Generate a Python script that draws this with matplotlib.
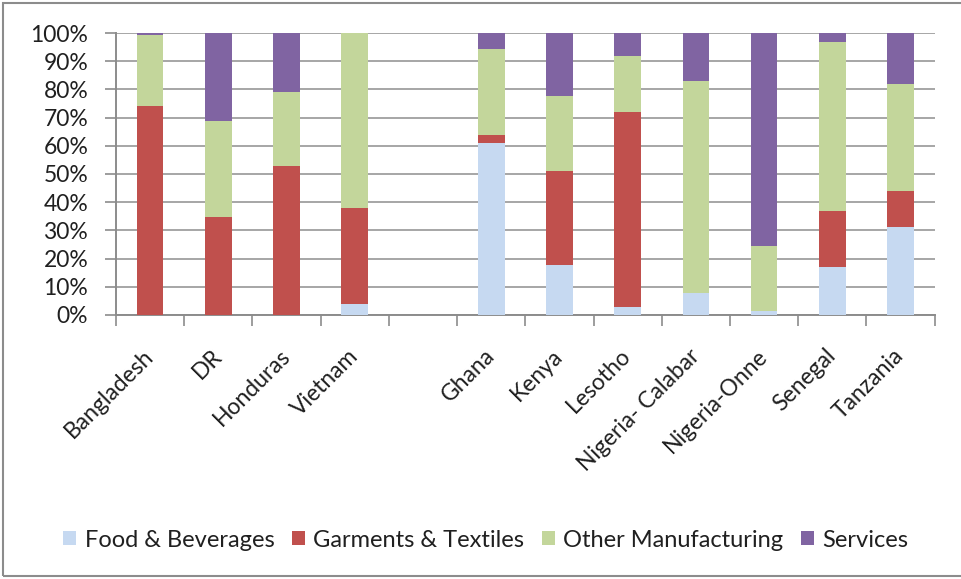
import matplotlib.pyplot as plt
import numpy as np
from matplotlib.patches import Rectangle

# categories (blank slot separates the two country groups)
countries = ['Bangladesh', 'DR', 'Honduras', 'Vietnam', '',
             'Ghana', 'Kenya', 'Lesotho', 'Nigeria- Calabar', 'Nigeria-Onne',
             'Senegal', 'Tanzania']

# shares in percent
food = [0, 0, 0, 3.8, 0, 60.9, 17.8, 3.0, 7.8, 1.4, 16.9, 31.1]
garments = [74.2, 34.6, 52.8, 34.0, 0, 2.8, 33.2, 68.9, 0, 0, 20.1, 12.8]
other = [25.0, 34.1, 26.4, 62.2, 0, 30.5, 26.8, 20.1, 75.1, 23.2, 59.9, 38.0]
services = [0.8, 31.3, 20.8, 0, 0, 5.8, 22.2, 8.0, 17.1, 75.4, 3.1, 18.1]

series = ['Food & Beverages', 'Garments & Textiles', 'Other Manufacturing', 'Services']
colors = ['#C6D9F1', '#C0504D', '#C3D69B', '#8064A2']

plt.rcParams['font.family'] = ['Lato', 'DejaVu Sans']
txt = '#202020'

fig = plt.figure(figsize=(9.62, 5.79), dpi=100)
ax = fig.add_axes([0.1206, 0.456, 0.851, 0.487])

x = np.arange(len(countries))
bottom = np.zeros(len(countries))
for vals, name, c in zip([food, garments, other, services], series, colors):
    v = np.array(vals) / 100.0
    ax.bar(x, v, width=0.39, bottom=bottom, color=c, label=name, zorder=3)
    bottom += v

ax.set_xlim(-0.5, len(countries) - 0.5)
ax.set_ylim(0, 1)
ax.set_yticks(np.arange(0, 1.01, 0.1))
ax.set_yticklabels(['%d%%' % v for v in range(0, 101, 10)], fontsize=16.5, color=txt)
ax.yaxis.grid(True, color='#A6A6A6', linewidth=1.4, zorder=0)
ax.tick_params(axis='y', length=8, width=1.2, color='#8C8C8C', pad=12)

ax.set_xticks(x)
ax.set_xticklabels(countries, rotation=45, ha='right', va='center',
                   rotation_mode='anchor', fontsize=16.5, color=txt)
ax.tick_params(axis='x', which='major', length=0, pad=27)
ax.set_xticks(np.arange(-0.5, len(countries), 1), minor=True)
ax.tick_params(axis='x', which='minor', length=8, width=1.2, color='#8C8C8C')

for s in ['top', 'right']:
    ax.spines[s].set_visible(False)
for s in ['left', 'bottom']:
    ax.spines[s].set_color('#8C8C8C')
    ax.spines[s].set_linewidth(1.4)

fig.legend(loc='center', bbox_to_anchor=(0.505, 0.067), ncol=4, frameon=False,
           fontsize=17, handlelength=0.55, handleheight=0.55, handletextpad=0.35,
           columnspacing=0.75, labelcolor=txt)

# outer chart border
fig.patches.append(Rectangle((0.003, 0.006), 1.2, 0.989, transform=fig.transFigure,
                             fill=False, edgecolor='#8C8C8C', linewidth=1.5))

fig.savefig('out.png', dpi=100)
